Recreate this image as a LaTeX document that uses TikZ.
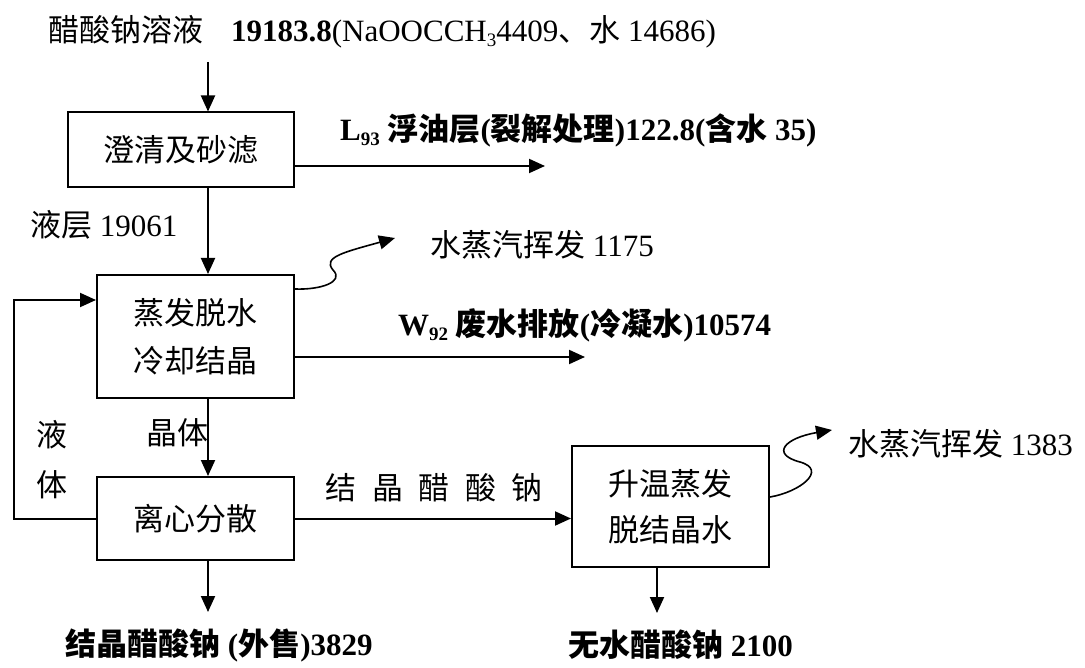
\documentclass[tikz,border=0pt]{standalone}
\usepackage{fontspec}
\setmainfont{Liberation Serif}
\newfontfamily\cjk{Noto Sans CJK SC}
\usetikzlibrary{arrows.meta}

\newcommand\axisX{208}
\newcommand\txtSize{\fontsize{31}{48}\selectfont}
\newcommand\lowtxt[1]{\raisebox{-.35ex}{\fontsize{19}{19}\selectfont #1}}
\newcommand\zh[1]{{\cjk #1}}

\tikzset{
  proc/.style={draw, line width=2pt, minimum width=197pt, inner sep=0pt, align=center, font=\txtSize\cjk},
  flow/.style={line width=2pt, -{Triangle[length=16pt,width=14pt]}},
  lbl/.style={inner sep=0pt, anchor=west, font=\txtSize},
}

\begin{document}
\begin{tikzpicture}[x=1pt, y=-1pt]
    \useasboundingbox (0,0) rectangle (1085,668);

    %% process boxes
    \node[proc, minimum width=226pt, minimum height=75pt] (clear) at (181,150) {澄清及砂滤};
    \node[proc, minimum height=123pt] (evap) at (195.5,336.5) {蒸发脱水\\冷却结晶};
    \node[proc, minimum height=83pt] (centri) at (195.5,518.5) {离心分散};
    \node[proc, minimum height=121pt, font=\fontsize{31}{46}\selectfont\cjk] (dehyd) at (670.5,506.5) {升温蒸发\\脱结晶水};

    %% streams in and out
    \node[lbl] (feed) at (48,32) {\zh{醋酸钠溶液}\hspace{.9em}\textbf{19183.8}(NaOOCCH\lowtxt{3}4409\zh{、水} 14686)};
    \node[lbl] (oil) at (340,130) {\textbf{L\lowtxt{93} \zh{浮油层}(\zh{裂解处理})122.8(\zh{含水} 35)}};
    \node[lbl] (liq) at (30,225) {\zh{液层} 19061};
    \node[lbl] (vap1) at (430,245) {\zh{水蒸汽挥发} 1175};
    \node[lbl] (waste) at (398,325) {\textbf{W\lowtxt{92} \zh{废水排放}(\zh{冷凝水})10574}};
    \node[lbl, anchor=center] (liqA) at (52,435) {\zh{液}};
    \node[lbl, anchor=center] (liqB) at (52,485) {\zh{体}};
    \node[lbl, anchor=center] (cryst) at (177,433) {\zh{晶体}};
    \node[lbl, anchor=center] (salt) at (434,488) {\zh{结\hspace{.5em}晶\hspace{.5em}醋\hspace{.5em}酸\hspace{.5em}钠}};
    \node[lbl] (vap2) at (848,444) {\zh{水蒸汽挥发} 1383};
    \node[lbl] (sold) at (65,645) {\textbf{\zh{结晶醋酸钠} (\zh{外售})3829}};
    \node[lbl] (anhyd) at (568,645) {\textbf{\zh{无水醋酸钠} 2100}};

    %% end points
    \coordinate (axis) at (\axisX,0);
    \coordinate (feedEnd) at (\axisX,62);
    \coordinate (oilEnd) at (545,166);
    \coordinate (wasteEnd) at (585,357);
    \coordinate (loopIn) at (14,300);
    \coordinate (soldEnd) at (\axisX,612);
    \coordinate (anhydEnd) at (657,613);

    %% main line
    \draw[flow] (feedEnd) -- (clear.north -| feedEnd);
    \draw[flow] (clear.south -| axis) -- (evap.north -| axis);
    \draw[flow] (evap.south -| axis) -- (centri.north -| axis);
    \draw[flow] (centri.south -| soldEnd) -- (soldEnd);
    \draw[flow] (centri.east) -- (dehyd.west |- centri.east);
    \draw[flow] (dehyd.south -| anhydEnd) -- (anhydEnd);

    %% side streams
    \draw[flow] (clear.east |- oilEnd) -- (oilEnd);
    \draw[flow] (evap.east |- wasteEnd) -- (wasteEnd);
    \draw[flow] (centri.west) -| (loopIn) -- (evap.west |- loopIn);

    %% vapour
    \draw[flow, line width=1.6pt] ([yshift=-15pt]evap.north east) .. controls (320,290) and (345,282) .. (333,270)
      .. controls (322,257) and (345,252) .. ([xshift=-35pt,yshift=7pt]vap1.west);
    \draw[flow, line width=1.6pt] ([yshift=-52pt]dehyd.north east) .. controls (800,492) and (828,470) .. (800,462)
      .. controls (770,454) and (785,438) .. ([xshift=-16pt,yshift=14pt]vap2.west);

\end{tikzpicture}
\end{document}
